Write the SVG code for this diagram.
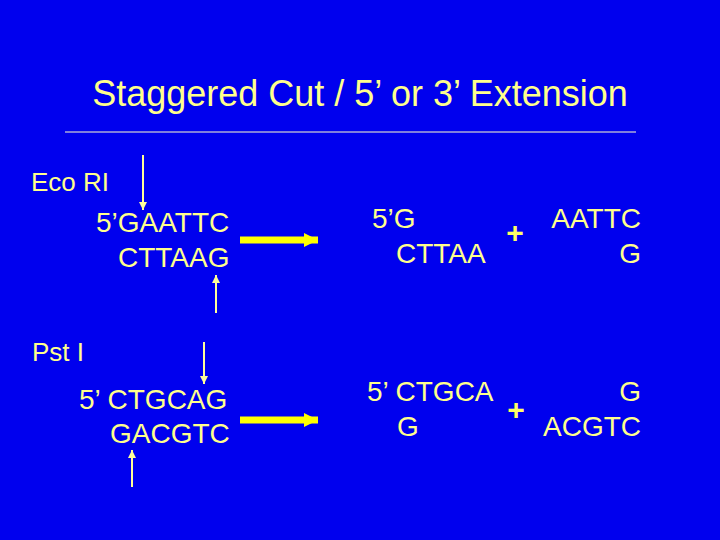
<svg xmlns="http://www.w3.org/2000/svg" width="720" height="540" viewBox="0 0 720 540">
<defs>
<style>
text{font-family:"Liberation Sans",Arial,sans-serif;fill:#FFFF8C;}
.t{font-size:36px;}
.s{font-size:28px;}
.l{font-size:26px;}
.plus{font-size:30px;font-weight:bold;fill:#FFFF66;}
.thin{stroke:#FFFF99;stroke-width:2;fill:none;}
.thick{stroke:#FFFF00;stroke-width:7;fill:none;}
</style>
<marker id="ah" viewBox="0 0 10 10" refX="10" refY="5" markerWidth="9" markerHeight="8" markerUnits="userSpaceOnUse" orient="auto"><path d="M0,0L10,5L0,10z" fill="#FFFF99"/></marker>
<marker id="bh" viewBox="0 0 10 10" refX="10" refY="5" markerWidth="14" markerHeight="15" markerUnits="userSpaceOnUse" orient="auto"><path d="M0,0L10,5L0,10z" fill="#FFFF00"/></marker>
</defs>
<rect width="720" height="540" fill="#0000EE"/>
<g id="title">
<text class="t" x="360" y="106" text-anchor="middle">Staggered Cut / 5’ or 3’ Extension</text>
<line x1="65" y1="132" x2="636" y2="132" stroke="#FFFFCC" stroke-width="1"/>
</g>
<g id="ecori">
<text class="l" x="31" y="191">Eco RI</text>
<text class="s" x="96" y="232">5’GAATTC</text>
<text class="s" x="118" y="267">CTTAAG</text>
</g>
<g id="ecori-products">
<text class="s" x="372" y="228">5’G</text>
<text class="s" x="396" y="263">CTTAA</text>
<text class="plus" x="515" y="243" text-anchor="middle">+</text>
<text class="s" x="641" y="228" text-anchor="end">AATTC</text>
<text class="s" x="641" y="263" text-anchor="end">G</text>
</g>
<g id="psti">
<text class="l" x="32" y="361">Pst I</text>
<text class="s" x="79" y="409">5’ CTGCAG</text>
<text class="s" x="110" y="443">GACGTC</text>
</g>
<g id="psti-products">
<text class="s" x="367" y="401">5’ CTGCA</text>
<text class="s" x="397" y="436">G</text>
<text class="plus" x="516" y="420" text-anchor="middle">+</text>
<text class="s" x="641" y="401" text-anchor="end">G</text>
<text class="s" x="641" y="436" text-anchor="end">ACGTC</text>
</g>
<g id="connectors">
<line class="thin" x1="143" y1="155" x2="143" y2="210" marker-end="url(#ah)"/>
<line class="thin" x1="216" y1="313" x2="216" y2="275" marker-end="url(#ah)"/>
<line class="thin" x1="204" y1="342" x2="204" y2="384" marker-end="url(#ah)"/>
<line class="thin" x1="132" y1="487" x2="132" y2="450" marker-end="url(#ah)"/>
<line class="thick" x1="240" y1="240" x2="318" y2="240" marker-end="url(#bh)"/>
<line class="thick" x1="240" y1="420" x2="318" y2="420" marker-end="url(#bh)"/>
</g>
</svg>
